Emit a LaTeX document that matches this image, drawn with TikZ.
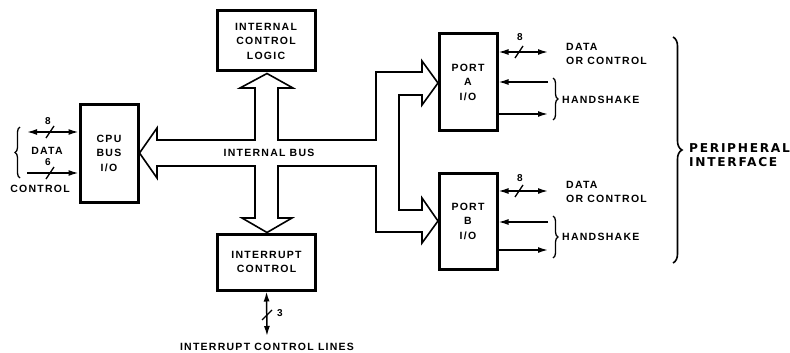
\documentclass[tikz,border=0pt]{standalone}
\usepackage{fontspec}
\setmainfont{Liberation Sans}[LetterSpace=12]
\newfontfamily\heavyfont{DejaVu Sans}[LetterSpace=14]
\usetikzlibrary{arrows.meta,decorations.pathreplacing}
\begin{document}
\begin{tikzpicture}[x=1pt,y=-1pt,
  lbl/.style={font=\fontsize{10.5}{14.5}\selectfont\bfseries, inner sep=0pt, align=center},
  num/.style={font=\fontsize{10}{11}\selectfont\bfseries, inner sep=0pt},
  blk/.style={draw, line width=3pt, inner sep=0pt, lbl},
  sig/.style={line width=1.5pt},
  bus/.style={line width=1.6pt, line join=miter},
  oneway/.style={sig, -{Latex[length=10pt,width=6pt]}},
  twoway/.style={sig, {Latex[length=10pt,width=6pt]}-{Latex[length=10pt,width=6pt]}},
  brc/.style={sig, line width=1.3pt, decorate, decoration={brace, amplitude=5pt}},
  bigbrc/.style={sig, line width=1.6pt, decorate, decoration={brace, amplitude=9pt}},
  slash/.style={line width=1.3pt}
]
\useasboundingbox (0,0) rectangle (790,353);

% blocks
\node[blk, minimum width=58pt, minimum height=98pt] (cpu) at (109,153) {CPU\\BUS\\I/O};
\node[blk, minimum width=98pt, minimum height=60pt] (icl) at (266,41) {INTERNAL\\CONTROL\\LOGIC};
\node[blk, minimum width=98pt, minimum height=56pt] (ic) at (266.5,262) {INTERRUPT\\CONTROL};
\node[blk, minimum width=58pt, minimum height=96pt] (pa) at (468,82) {PORT\\A\\I/O};
\node[blk, minimum width=58pt, minimum height=96pt] (pb) at (468,221) {PORT\\B\\I/O};

% internal bus outline
\draw[bus] (157,140) -- (255,140) -- (255,88) -- (240,88) -- (267,73.5)
  -- (293,88) -- (278,88) -- (278,140) -- (376,140) -- (376,72) -- (422,72)
  -- (422,61) -- (438,83) -- (422,105) -- (422,95) -- (399,95) -- (399,210)
  -- (422,210) -- (422,198) -- (438,221) -- (422,243) -- (422,232)
  -- (376,232) -- (376,166) -- (278,166) -- (278,218) -- (292,218)
  -- (267,232.5) -- (242,218) -- (255,218) -- (255,166) -- (157,166)
  -- (157,178) -- (139.5,153) -- (157,128) -- cycle;
\node[lbl] (ibus) at (269,153) {INTERNAL BUS};

% CPU side
\coordinate (dl) at (27,132);
\coordinate (cl) at (27,173);
\draw[twoway] (dl) -- (cpu.west |- dl);
\draw[oneway] (cl) -- (cpu.west |- cl);
\draw[slash] (46,138) -- (54,126);
\draw[slash] (46,179) -- (54,167);
\node[num] (n8) at (48,121) {8};
\node[lbl] (data) at (47,151) {DATA};
\node[num] (n6) at (48,162) {6};
\node[lbl] (ctl) at (40,189) {CONTROL};
\draw[brc] (20,178) -- (20,127);

% interrupt lines
\coordinate (il) at (267,336);
\draw[twoway] (ic.south) -- (il);
\draw[slash] (262,320) -- (272,310);
\node[num] (n3) at (280,313) {3};
\node[lbl] (icl2) at (267,347) {INTERRUPT CONTROL LINES};

% port A
\coordinate (ad) at (548,52);
\coordinate (ai) at (548,82);
\coordinate (ao) at (548,114);
\draw[twoway] (pa.east |- ad) -- (ad);
\draw[oneway] (ai) -- (pa.east |- ai);
\draw[oneway] (pa.east |- ao) -- (ao);
\draw[slash] (515,58) -- (523,46);
\node[num] (a8) at (520,37) {8};
\node[lbl, anchor=west, align=left] (adt) at (566,54) {DATA\\OR CONTROL};
\draw[brc] (553,78) -- (553,120);
\node[lbl, anchor=west] (ahs) at (562,100) {HANDSHAKE};

% port B
\coordinate (bd) at (548,191);
\coordinate (bi) at (548,222);
\coordinate (bo) at (548,250);
\draw[twoway] (pb.east |- bd) -- (bd);
\draw[oneway] (bi) -- (pb.east |- bi);
\draw[oneway] (pb.east |- bo) -- (bo);
\draw[slash] (515,197) -- (523,185);
\node[num] (b8) at (520,178) {8};
\node[lbl, anchor=west, align=left] (bdt) at (566,192) {DATA\\OR CONTROL};
\draw[brc] (553,216) -- (553,258);
\node[lbl, anchor=west] (bhs) at (562,237) {HANDSHAKE};

% peripheral interface
\draw[bigbrc] (673,37) -- (673,263);
\node[anchor=west, align=left, inner sep=0pt, font=\heavyfont\fontsize{12.2}{13.5}\selectfont\bfseries] (pif) at (689,155) {PERIPHERAL\\INTERFACE};
\end{tikzpicture}
\end{document}
